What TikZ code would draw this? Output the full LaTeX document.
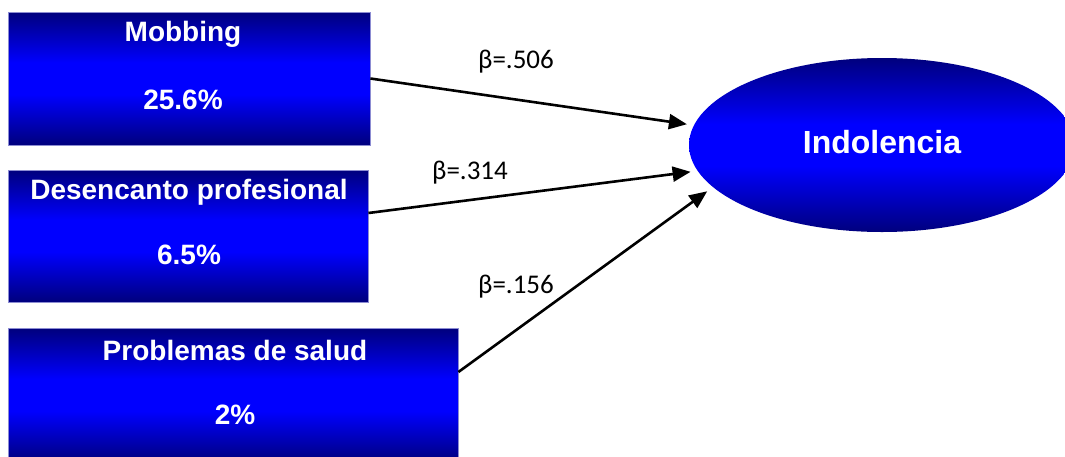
\documentclass[tikz,border=0pt]{standalone}
\usepackage{fontspec}
\setmainfont{Liberation Sans}
\newfontfamily\lblfont{Carlito}
\usetikzlibrary{shapes.geometric,arrows.meta}
\definecolor{navyd}{RGB}{0,0,125}
\definecolor{brightb}{RGB}{0,0,255}
\definecolor{edgeb}{RGB}{140,140,210}
\pgfdeclareverticalshading{bluegrad}{100bp}{color(0bp)=(navyd); color(25bp)=(navyd); color(44bp)=(brightb); color(56bp)=(brightb); color(75bp)=(navyd); color(100bp)=(navyd)}
\tikzset{
  boxshade/.style={draw=edgeb, line width=0.8pt, shading=bluegrad, inner sep=0pt},
  boxtext/.style={text=white, font=\fontsize{28}{32}\selectfont\bfseries, inner sep=0pt},
  arr/.style={line width=2.6pt, -{Triangle[length=18pt,width=15pt]}, shorten >=7pt},
  beta/.style={font=\lblfont\fontsize{27}{30}\selectfont, inner sep=0pt}
}
\begin{document}
\begin{tikzpicture}[x=1pt,y=-1pt]
\useasboundingbox (0,0) rectangle (1065,456);
\node[boxshade, minimum width=362pt, minimum height=133pt] (b1) at (189,78.5) {};
\node[boxshade, minimum width=360pt, minimum height=132pt] (b2) at (188,236) {};
\node[boxshade, minimum width=450pt, minimum height=134pt] (b3) at (233,395) {};
\node[ellipse, shading=bluegrad, minimum width=386pt, minimum height=174pt, inner sep=0pt] (ell) at (882,145) {};
\node[boxtext] (t1a) at (183,34) {Mobbing};
\node[boxtext] (t1b) at (183,100) {25.6\%};
\node[boxtext] (t2a) at (189,192) {Desencanto profesional};
\node[boxtext] (t2b) at (189,255) {6.5\%};
\node[boxtext] (t3a) at (235,350) {Problemas de salud};
\node[boxtext] (t3b) at (235,415) {2\%};
\node[text=white, font=\fontsize{32}{36}\selectfont\bfseries, inner sep=0pt] (tel) at (882,142) {Indolencia};
\draw[arr] (b1.east) -- (ell.174);
\draw[arr] (b2.east |- 0,213) coordinate (s2) -- (ell.188);
\draw[arr] (b3.east |- 0,372) coordinate (s3) -- (ell.194);
\node[beta] (l1) at (516,62) {β=.506};
\node[beta] (l2) at (470,173) {β=.314};
\node[beta] (l3) at (516,287) {β=.156};
\end{tikzpicture}
\end{document}
